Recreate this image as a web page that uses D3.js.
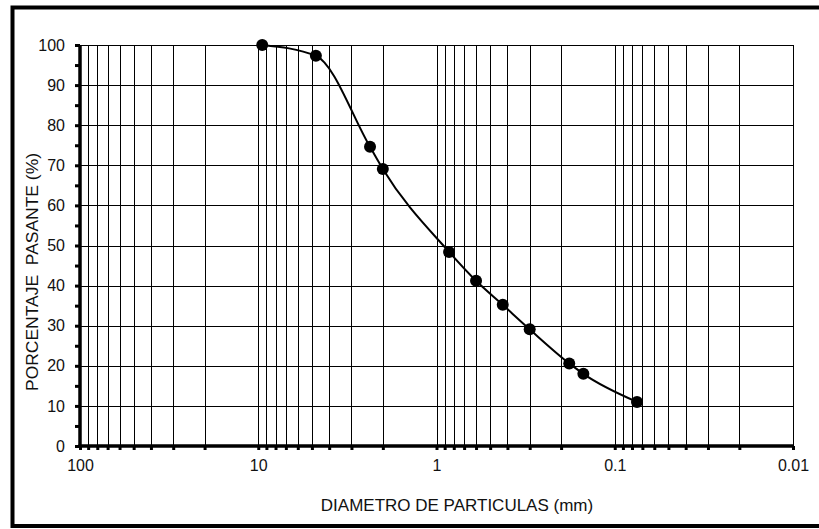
<!DOCTYPE html>
<html>
<head>
<meta charset="utf-8">
<script src="https://cdn.jsdelivr.net/npm/d3@7"></script>
<style>
  body { margin: 0; background: #fff; }
  text { font-family: "Liberation Sans", Arial, sans-serif; fill: #111; }
</style>
</head>
<body>
<script type="text/javascript">
// sieve analysis data (diameter in mm, % passing)
var diametro = [9.5, 4.75, 2.36, 2.0, 0.85, 0.6, 0.425, 0.3, 0.18, 0.15, 0.075];
var pasante = [100, 97.3, 74.6, 69.1, 48.4, 41.2, 35.2, 29.1, 20.6, 18.0, 11.0];
var xTicks = [100, 10, 1, 0.1, 0.01];
var yTicks = [0, 10, 20, 30, 40, 50, 60, 70, 80, 90, 100];

var w = 819, h = 529;
var Xscale = d3.scaleLog().domain([100, 0.01]).range([80, 793]);
var Yscale = d3.scaleLinear().domain([0, 100]).range([446, 45]);

const svg = d3.select("body").append("svg").attr("width", w).attr("height", h);

// outer frame
svg.append("rect").attr("x", 12.5).attr("y", 7.5).attr("width", 830).attr("height", 518.5)
  .attr("fill", "none").attr("stroke", "#000").attr("stroke-width", 4);

// vertical grid lines (log minor)
var gridX = [];
[10, 1, 0.1, 0.01].forEach(function (dec) {
  for (var k = 1; k <= 9; k++) gridX.push(dec * k);
});
gridX = gridX.filter(function (v) { return v < 100 && v >= 0.01; });

var grid = svg.append("g");
grid.selectAll("line.gx").data(gridX).enter().append("line")
  .attr("x1", function (d) { return Math.round(Xscale(d)) + 0.5; })
  .attr("x2", function (d) { return Math.round(Xscale(d)) + 0.5; })
  .attr("y1", Yscale(100)).attr("y2", Yscale(0) + 4)
  .attr("stroke", "#000").attr("stroke-width", 1);

grid.selectAll("line.gy").data(yTicks.slice(1)).enter().append("line")
  .attr("x1", Xscale(100)).attr("x2", Xscale(0.01))
  .attr("y1", function (d) { return Math.round(Yscale(d)) + 0.5; })
  .attr("y2", function (d) { return Math.round(Yscale(d)) + 0.5; })
  .attr("stroke", "#000").attr("stroke-width", 1);

// y axis
var yMinor = d3.range(0, 101, 5);
var yAxis = d3.axisLeft(Yscale).tickValues(yMinor).tickSize(5)
  .tickFormat(function (d) { return d % 10 === 0 ? d : ""; }).tickPadding(10);
var gy = svg.append("g").attr("transform", "translate(" + Xscale(100) + ",0)").call(yAxis);
gy.select(".domain").remove();
gy.selectAll(".tick line").attr("stroke", "#000").attr("stroke-width", 3);
gy.selectAll("text").style("font-size", "16px").style("font-family", "Liberation Sans, Arial, sans-serif").attr("fill", "#111");

// x axis
var xAxis = d3.axisBottom(Xscale).tickValues(gridX.concat([100])).tickSize(4)
  .tickFormat(function (d) { return xTicks.indexOf(d) >= 0 ? d3.format("~g")(d) : ""; }).tickPadding(10);
var gx = svg.append("g").attr("transform", "translate(0," + Yscale(0) + ")").call(xAxis);
gx.select(".domain").remove();
gx.selectAll(".tick line").attr("stroke", "#000").attr("stroke-width", 3);
gx.selectAll("text").style("font-size", "16px").style("font-family", "Liberation Sans, Arial, sans-serif").attr("fill", "#111");

// axis lines (thick)
svg.append("line").attr("x1", Xscale(100)).attr("x2", Xscale(100))
  .attr("y1", Yscale(100)).attr("y2", Yscale(0) + 1.5).attr("stroke", "#000").attr("stroke-width", 3.5);
svg.append("line").attr("x1", Xscale(100) - 1.5).attr("x2", Xscale(0.01) + 1)
  .attr("y1", Yscale(0)).attr("y2", Yscale(0)).attr("stroke", "#000").attr("stroke-width", 3.5);

// curve
var pts = diametro.map(function (d, i) { return [Xscale(d), Yscale(pasante[i])]; });
svg.append("path").attr("d", d3.line().curve(d3.curveMonotoneX)(pts))
  .attr("fill", "none").attr("stroke", "#000").attr("stroke-width", 2);

svg.selectAll("circle.pt").data(pts).enter().append("circle")
  .attr("cx", function (d) { return d[0]; }).attr("cy", function (d) { return d[1]; })
  .attr("r", 6).attr("fill", "#000");

// titles
svg.append("text").attr("x", 457).attr("y", 511).attr("text-anchor", "middle")
  .style("font-size", "17px").text("DIAMETRO DE PARTICULAS (mm)");
svg.append("text").attr("transform", "translate(38,272) rotate(-90)").attr("text-anchor", "middle")
  .attr("textLength", 238).attr("lengthAdjust", "spacingAndGlyphs")
  .style("font-size", "17px").style("white-space", "pre").text("PORCENTAJE  PASANTE (%)");
</script>
</body>
</html>
